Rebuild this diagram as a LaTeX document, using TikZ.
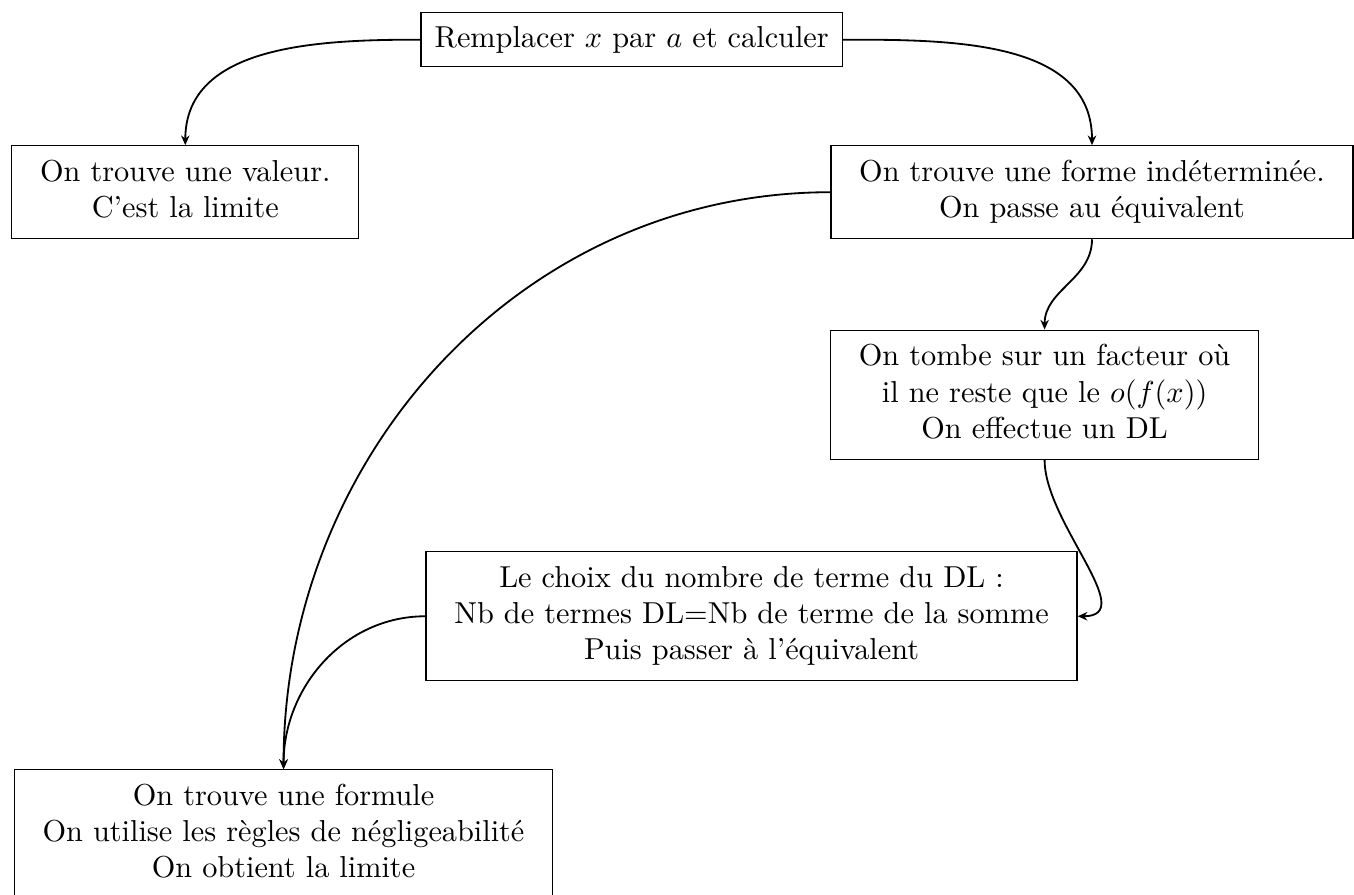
\documentclass[tikz,border=0pt]{standalone}
\usepackage{amsmath}
\usepackage{fontspec}
\usepackage{tikz}
\usetikzlibrary{arrows.meta}

\begin{document}
\begin{tikzpicture}[boite/.style={draw, rectangle}, fleche/.style={-{Stealth[length=3.2pt, width=2.8pt]}, semithick}]
          \useasboundingbox (0,0) rectangle (15.71,-10.38);

          \node[boite, inner sep=4.5pt] (calc) at (7.33,-0.46) {Remplacer $x$ par $a$ et calculer};
          \node[boite] (valeur) at (2.15,-2.23) {\begin{tabular}{c}On trouve une valeur.\\C'est la limite\end{tabular}};
          \node[boite] (indet) at (12.67,-2.23) {\begin{tabular}{c}On trouve une forme indéterminée.\\On passe au équivalent\end{tabular}};
          \node[boite] (dl) at (12.12,-4.58) {\begin{tabular}{c}On tombe sur un facteur où\\il ne reste que le $o(f(x))$\\On effectue un DL\end{tabular}};
          \node[boite] (choix) at (8.72,-7.15) {\begin{tabular}{c}Le choix du nombre de terme du DL :\\Nb de termes DL=Nb de terme de la somme\\Puis passer à l'équivalent\end{tabular}};
          \node[boite] (formule) at (3.29,-9.68) {\begin{tabular}{c}On trouve une formule\\On utilise les règles de négligeabilité\\On obtient la limite\end{tabular}};

          \draw[fleche] (calc.west) to[out=180, in=90] (valeur.north);
          \draw[fleche] (calc.east) to[out=0, in=90] (indet.north);
          \draw[fleche] (indet.south) to[out=-90, in=90] (dl.north);
          \draw[fleche] (dl.south) to[out=-90, in=0] (choix.east);
          \draw[fleche] (indet.west) to[out=180, in=90] (formule.north);
          \draw[fleche] (choix.west) to[out=180, in=90] (formule.north);
        \end{tikzpicture}
\end{document}
